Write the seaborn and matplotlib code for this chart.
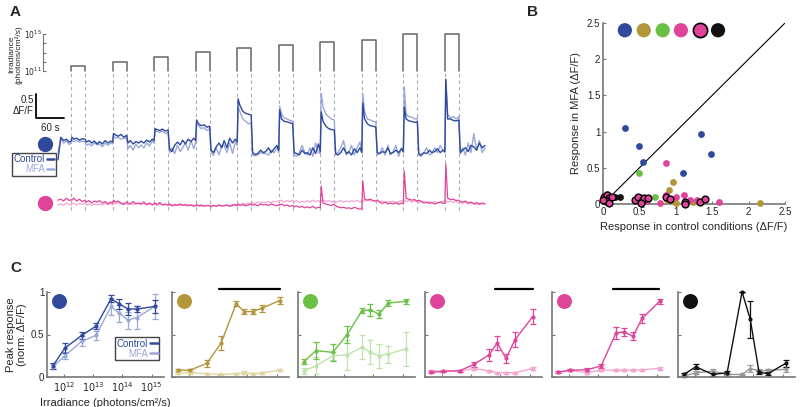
import numpy as np
import seaborn as sns
import matplotlib.pyplot as plt
from matplotlib.lines import Line2D

# ---------------- panel A: light steps + example traces ----------------
onsets = [28, 117, 206, 295, 384, 473, 562, 651, 740, 829]  # s
pulse_len = 30
pulse_log_irr = [11.55, 11.95, 12.5, 13.05, 13.5, 13.8, 14.15, 14.4, 15.0, 15.0]
rel_t = [-28, -22, -16, -10, -4, 0, 2, 6, 12, 18, 24, 30, 33, 38, 44, 50, 56]
tail_t = [891, 897, 903, 909, 915]

blue_ctrl = [
    -0.35, 0.12, 0.05, 0.08, 0.02, 0.04, 0.12, 0.08, 0.10, 0.06, 0.09, 0.08, 0.02, 0.05, 0.0, 0.04, -0.02,
    0.03, -0.02, 0.05, 0.0, 0.04, 0.02, 0.2, 0.17, 0.14, 0.18, 0.12, 0.16, 0.0, 0.05, -0.02, 0.03, 0.0,
    0.04, 0.0, 0.06, 0.02, 0.08, 0.05, 0.3, 0.28, 0.26, 0.29, 0.25, 0.27, -0.12, -0.18, -0.05, 0.02, -0.04,
    0.06, -0.02, 0.08, 0.03, 0.1, 0.05, 0.48, 0.4, 0.36, 0.38, 0.33, 0.35, -0.15, -0.2, -0.08, 0.0, -0.1,
    0.05, -0.1, 0.1, 0.0, 0.08, 0.02, 0.92, 0.78, 0.66, 0.62, 0.6, 0.58, -0.2, -0.24, -0.22, -0.15, -0.2,
    -0.18, -0.1, -0.2, -0.12, -0.05, -0.15, 0.69, 0.5, 0.45, 0.44, 0.42, 0.4, -0.2, -0.22, -0.25, -0.15, -0.22,
    -0.2, -0.25, -0.1, -0.22, -0.02, -0.18, 0.65, 0.45, 0.35, 0.3, 0.28, 0.27, -0.22, -0.25, -0.2, -0.1, -0.22,
    -0.18, -0.25, -0.12, -0.2, -0.1, -0.2, 0.83, 0.5, 0.4, 0.36, 0.35, 0.33, -0.2, -0.22, -0.18, -0.2, -0.1,
    -0.22, -0.2, -0.15, -0.2, -0.12, -0.18, 0.75, 0.5, 0.46, 0.45, 0.43, 0.44, -0.22, -0.25, -0.2, -0.22, -0.15,
    -0.2, -0.18, -0.12, -0.2, -0.15, -0.18, 1.33, 0.5, 0.5, 0.47, 0.46, 0.48, -0.2, -0.15, -0.1, -0.18, -0.05,
    -0.08, -0.15, 0.0, -0.1, -0.05]
blue_mfa = [
    -0.2, 0.08, 0.0, 0.04, -0.03, 0.0, 0.06, 0.03, 0.05, 0.02, 0.04, 0.03, -0.05, -0.02, -0.06, 0.0, -0.04,
    -0.02, -0.08, 0.0, -0.05, 0.0, -0.02, 0.15, 0.1, 0.12, 0.08, 0.1, 0.1, -0.12, -0.05, -0.15, -0.02, -0.1,
    -0.04, -0.1, 0.0, -0.06, 0.04, 0.0, 0.27, 0.24, 0.22, 0.25, 0.2, 0.22, -0.2, -0.1, -0.22, -0.05, -0.18,
    -0.1, 0.0, -0.15, 0.05, -0.12, 0.0, 0.4, 0.36, 0.3, 0.32, 0.26, 0.3, -0.2, -0.26, -0.1, -0.25, -0.05,
    -0.05, -0.2, 0.0, -0.22, 0.02, -0.05, 0.75, 0.65, 0.5, 0.45, 0.4, 0.42, -0.25, -0.27, -0.25, -0.2, -0.22,
    -0.22, -0.25, -0.15, -0.2, -0.1, -0.2, 0.77, 0.6, 0.52, 0.5, 0.47, 0.45, -0.25, -0.28, -0.2, -0.05, -0.2,
    -0.25, -0.1, -0.28, 0.0, -0.2, -0.22, 1.04, 0.75, 0.6, 0.55, 0.5, 0.48, -0.25, -0.2, -0.1, 0.05, -0.25,
    -0.2, -0.05, -0.25, -0.1, 0.02, -0.2, 1.04, 0.65, 0.5, 0.48, 0.45, 0.44, -0.25, -0.22, -0.1, -0.25, -0.05,
    -0.25, -0.18, -0.05, -0.28, -0.1, -0.2, 1.17, 0.6, 0.55, 0.54, 0.5, 0.52, -0.25, -0.28, -0.2, -0.1, -0.25,
    -0.22, -0.1, -0.2, -0.05, -0.15, -0.2, 1.31, 0.6, 0.52, 0.55, 0.5, 0.55, -0.22, -0.1, -0.25, 0.0, -0.2,
    0.2, -0.15, 0.05, -0.2, -0.1]
pink_ctrl = [
    0.06, 0.08, 0.04, 0.1, 0.05, 0.07, 0.06, 0.1, 0.04, 0.08, 0.03, 0.06, 0.02, 0.05, 0.0, 0.04, 0.02,
    0.05, 0.0, 0.03, -0.02, 0.02, 0.0, 0.06, 0.02, 0.04, 0.0, -0.03, 0.02, 0.0, -0.02, 0.03, -0.02, 0.0,
    -0.02, 0.02, -0.03, 0.0, -0.04, -0.02, 0.0, -0.03, 0.01, -0.04, -0.02, -0.05, -0.02, -0.06, -0.03, -0.05, -0.02,
    -0.05, -0.03, -0.06, -0.04, -0.07, -0.05, -0.03, -0.06, -0.04, -0.07, -0.05, -0.06, -0.08, -0.05, -0.07, -0.04, -0.06,
    -0.06, -0.04, -0.07, -0.05, -0.03, -0.06, -0.02, -0.05, -0.03, -0.06, -0.04, -0.02, -0.05, -0.03, -0.06, -0.02, -0.04,
    -0.03, -0.05, -0.02, -0.04, -0.06, -0.03, -0.05, -0.02, -0.06, -0.04, -0.07, -0.05, -0.08, -0.06, -0.09, -0.07, -0.1,
    -0.08, -0.1, -0.07, -0.11, -0.09, -0.1, 0.35, 0.0, -0.02, -0.04, -0.05, -0.03, -0.06, -0.08, -0.1, -0.09, -0.11,
    -0.1, -0.12, -0.09, -0.11, -0.13, -0.12, 0.46, 0.08, 0.06, 0.08, 0.05, 0.04, 0.06, 0.02, -0.01, 0.02, -0.02,
    0.0, -0.02, 0.01, -0.03, 0.0, -0.02, 0.67, 0.1, 0.08, 0.06, 0.07, 0.04, 0.06, 0.03, 0.0, 0.02, -0.01,
    0.01, -0.02, 0.0, 0.02, -0.01, 0.0, 0.81, 0.1, 0.07, 0.08, 0.05, 0.06, 0.03, 0.02, 0.04, 0.0, 0.02,
    -0.02, 0.01, -0.03, 0.0, -0.02]
pink_mfa = [
    -0.04, -0.02, -0.05, 0.0, -0.03, -0.05, -0.02, 0.0, -0.04, -0.01, -0.03, 0.0, -0.04, -0.02, -0.05, -0.02, -0.04,
    -0.02, -0.04, 0.0, -0.03, -0.01, -0.04, 0.0, -0.02, 0.01, -0.03, 0.0, -0.02, -0.04, -0.01, -0.03, 0.0, -0.02,
    -0.03, -0.01, -0.04, -0.02, -0.03, -0.01, -0.03, -0.05, -0.02, -0.04, -0.03, -0.05, -0.02, -0.04, -0.06, -0.03, -0.05,
    -0.04, -0.06, -0.03, -0.05, -0.04, -0.06, -0.04, -0.05, -0.07, -0.05, -0.06, -0.04, -0.06, -0.05, -0.07, -0.05, -0.06,
    -0.05, -0.04, -0.06, -0.03, -0.05, -0.04, -0.02, -0.04, -0.01, -0.03, 0.0, -0.02, 0.01, -0.01, 0.02, 0.0, 0.02,
    0.01, 0.03, 0.0, 0.04, 0.02, 0.05, 0.03, 0.06, 0.02, 0.05, 0.03, 0.06, 0.02, 0.05, 0.01, 0.04, 0.02,
    0.05, 0.02, 0.06, 0.03, 0.05, 0.02, 0.04, 0.06, 0.03, 0.05, 0.02, 0.04, 0.01, 0.03, 0.05, 0.02, 0.04,
    0.02, 0.05, 0.03, 0.06, 0.02, 0.04, 0.06, 0.03, 0.07, 0.04, 0.05, 0.03, 0.06, 0.02, 0.04, 0.01, 0.03,
    0.02, 0.04, 0.01, 0.03, 0.05, 0.02, 0.06, 0.03, 0.05, 0.02, 0.04, 0.03, 0.01, 0.04, 0.02, 0.0, 0.03,
    0.01, 0.03, 0.0, 0.02, 0.04, 0.01, 0.05, 0.02, 0.04, 0.01, 0.03, 0.0, 0.02, -0.01, 0.01, -0.02, 0.0,
    -0.01, -0.03, 0.0, -0.02, -0.01]

# ---------------- panel B: MFA vs control scatter ----------------
blue_b_x = [0.3, 0.5, 0.55, 1.1, 1.35, 1.48]
blue_b_y = [1.05, 0.8, 0.58, 0.43, 0.96, 0.69]
olive_b_x = [0.96, 0.9, 0.88, 1.0, 1.23, 2.16, 0.97]
olive_b_y = [0.31, 0.19, 0.06, 0.01, 0.03, 0.01, 0.04]
green_b_x = [0.5, 0.72]
green_b_y = [0.43, 0.09]
pink_b_x = [0.87, 0.51, 0.45, 0.78, 0.87, 1.0, 1.11, 1.2, 1.29, 1.6, 0.6, 0.06]
pink_b_y = [0.56, 0.1, 0.07, 0.02, 0.12, 0.1, 0.12, 0.06, 0.05, 0.03, 0.04, 0.14]
pinkedge_b_x = [0.02, 0.05, 0.08, 0.04, 0.08, 0.12, 0.0, 0.44, 0.48, 0.54, 0.57, 0.62,
                0.52, 0.87, 0.92, 1.13, 1.13, 1.33, 1.4]
pinkedge_b_y = [0.1, 0.13, 0.08, 0.04, 0.02, 0.1, 0.06, 0.05, 0.1, 0.04, 0.08, 0.08,
                0.01, 0.1, 0.07, 0.03, 0.0, 0.03, 0.07]
black_b_x = [0.1, 0.16, 0.23]
black_b_y = [0.08, 0.09, 0.09]

# ---------------- panel C: normalised peak response ----------------
irr_log = [11.62, 12.03, 12.61, 13.1, 13.61, 13.89, 14.19, 14.5, 15.1]
c_ctrl = [
    [0.13, 0.34, 0.49, 0.6, 0.92, 0.86, 0.8, 0.8, 0.83],
    [0.08, 0.08, 0.16, 0.4, 0.86, 0.77, 0.77, 0.81, 0.9],
    [0.18, 0.31, 0.29, 0.5, 0.78, 0.79, 0.74, 0.87, 0.89],
    [0.055, 0.066, 0.074, 0.15, 0.26, 0.4, 0.22, 0.44, 0.71],
    [0.055, 0.08, 0.085, 0.13, 0.52, 0.53, 0.48, 0.69, 0.89],
    [0.03, 0.12, 0.03, 0.05, 1.0, 0.68, 0.055, 0.04, 0.16]]
c_ctrl_err = [
    [0.03, 0.06, 0.04, 0.04, 0.04, 0.06, 0.07, 0.04, 0.08],
    [0.02, 0.02, 0.04, 0.08, 0.03, 0.03, 0.03, 0.04, 0.04],
    [0.03, 0.1, 0.1, 0.1, 0.03, 0.07, 0.05, 0.04, 0.03],
    [0.01, 0.01, 0.01, 0.03, 0.07, 0.08, 0.05, 0.09, 0.09],
    [0.01, 0.01, 0.02, 0.02, 0.07, 0.05, 0.05, 0.05, 0.03],
    [0.02, 0.03, 0.02, 0.02, 0.0, 0.22, 0.02, 0.02, 0.04]]
c_mfa = [
    [0.12, 0.25, 0.42, 0.49, 0.83, 0.75, 0.67, 0.7, 0.83],
    [0.05, 0.05, 0.04, 0.03, 0.04, 0.05, 0.04, 0.05, 0.08],
    [0.07, 0.13, 0.25, 0.26, 0.35, 0.29, 0.25, 0.27, 0.33],
    [0.07, 0.07, 0.07, 0.1, 0.07, 0.05, 0.05, 0.05, 0.1],
    [0.055, 0.08, 0.05, 0.08, 0.08, 0.08, 0.08, 0.085, 0.1],
    [0.01, 0.05, 0.07, 0.03, 0.03, 0.1, 0.07, 0.08, 0.09]]
c_mfa_err = [
    [0.03, 0.04, 0.06, 0.05, 0.1, 0.1, 0.1, 0.13, 0.15],
    [0.015, 0.015, 0.01, 0.01, 0.01, 0.015, 0.01, 0.01, 0.015],
    [0.04, 0.1, 0.05, 0.18, 0.14, 0.14, 0.14, 0.1, 0.2],
    [0.015, 0.01, 0.01, 0.015, 0.01, 0.01, 0.01, 0.01, 0.015],
    [0.01, 0.01, 0.01, 0.01, 0.01, 0.01, 0.01, 0.01, 0.015],
    [0.01, 0.02, 0.02, 0.02, 0.01, 0.04, 0.02, 0.02, 0.03]]
sig_bars = [None, (13.03, 15.12), None, (13.81, 15.11), (13.51, 15.08), None]

BLUE, LBLUE = '#30499c', '#9aa8d9'
OLIVE, LOLIVE = '#b3963a', '#e2d6a2'
GREEN, LGREEN = '#6abf45', '#bfe2ab'
PINK, LPINK = '#e0449a', '#f3a7d0'
BLACK, GREY = '#111111', '#999999'
ctrl_cols = [BLUE, OLIVE, GREEN, PINK, PINK, BLACK]
mfa_cols = [LBLUE, LOLIVE, LGREEN, LPINK, LPINK, GREY]
SPINE = '#777777'

sns.set_style('ticks')
plt.rcParams['font.family'] = ['Liberation Sans', 'DejaVu Sans']

fig = plt.figure(figsize=(8, 4.07), dpi=100)


def px_axes(x0, y0, x1, y1):
    return fig.add_axes([x0 / 800, 1 - y1 / 407, (x1 - x0) / 800, (y1 - y0) / 407])


def style_spines(ax):
    for s in ['top', 'right']:
        ax.spines[s].set_visible(False)
    for s in ['left', 'bottom']:
        ax.spines[s].set_color(SPINE)
        ax.spines[s].set_linewidth(1.2)
    ax.tick_params(direction='in', length=2.5, width=0.8, color=SPINE, labelsize=7, pad=2)


t = np.concatenate([np.add(o, rel_t) for o in onsets] + [np.array(tail_t)])
tmin, tmax = -32.1, 925.7

# irradiance protocol
ax_irr = px_axes(43, 34, 490, 71)
ax_irr.set_yscale('log')
ax_irr.set_ylim(1e11, 1e15)
ax_irr.set_xlim(tmin, tmax)
for on, lg in zip(onsets, pulse_log_irr):
    ax_irr.plot([on, on, on + pulse_len, on + pulse_len], [1e11, 10 ** lg, 10 ** lg, 1e11],
                color='#666666', lw=1.1, clip_on=False)
for s in ['top', 'right', 'bottom']:
    ax_irr.spines[s].set_visible(False)
ax_irr.spines['left'].set_color(SPINE)
ax_irr.set_xticks([])
ax_irr.set_yticks([1e11, 1e12, 1e13, 1e14, 1e15])
ax_irr.set_yticklabels(['$10^{11}$', '', '', '', '$10^{15}$'])
ax_irr.minorticks_off()
ax_irr.tick_params(axis='y', direction='in', length=2.5, color=SPINE, labelsize=5.5, pad=1)
ax_irr.set_ylabel('Irradiance\n(photons/cm²/s)', fontsize=6, linespacing=1.0)
ax_irr.yaxis.set_label_coords(-0.045, 0.45)
ax_irr.patch.set_alpha(0)

# traces
ax_tr = px_axes(43, 71, 490, 215)
ax_tr.set_xlim(tmin, tmax)
ax_tr.set_ylim(-0.25, 2.75)
ax_tr.axis('off')
ax_tr.vlines([o for o in onsets] + [o + pulse_len for o in onsets], -0.15, 2.75,
             colors='#aaaaaa', linestyles=(0, (3, 3)), lw=0.8)
blue_off = 1.25
sns.lineplot(x=t, y=np.array(blue_mfa) + blue_off, ax=ax_tr, color=LBLUE, lw=1.0, errorbar=None)
sns.lineplot(x=t, y=np.array(blue_ctrl) + blue_off, ax=ax_tr, color=BLUE, lw=1.0, errorbar=None)
sns.lineplot(x=t, y=pink_mfa, ax=ax_tr, color=LPINK, lw=0.9, errorbar=None)
sns.lineplot(x=t, y=pink_ctrl, ax=ax_tr, color=PINK, lw=0.9, errorbar=None)
# scale bar
ax_tr.plot([-47, -47, 13], [2.27, 1.77, 1.77], color='k', lw=1.3, clip_on=False)
ax_tr.text(-52, 2.03, '0.5\nΔF/F', ha='right', va='center', fontsize=7, linespacing=1.1)
ax_tr.text(-17, 1.66, '60 s', ha='center', va='top', fontsize=7)
ax_tr.plot([-28], [1.23], 'o', ms=10, color=BLUE, clip_on=False)
ax_tr.plot([-28], [0.0], 'o', ms=10, color=PINK, clip_on=False)

leg_handles = [Line2D([], [], color=BLUE, lw=1.8), Line2D([], [], color=LBLUE, lw=1.8)]
legA = fig.legend(leg_handles, ['Control', 'MFA'], loc='upper left',
                  bbox_to_anchor=(12 / 800, 1 - 153 / 407), markerfirst=False,
                  labelcolor='linecolor', fontsize=7, handlelength=0.8, handletextpad=0.2,
                  borderpad=0.15, labelspacing=0.0, fancybox=False, edgecolor='#444444',
                  framealpha=1, borderaxespad=0)
legA.get_frame().set_linewidth(1.0)

# ---------------- panel B ----------------
axB = px_axes(603, 23, 785, 204)
axB.set_xlim(0, 2.5)
axB.set_ylim(0, 2.5)
axB.plot([0, 2.5], [0, 2.5], color='k', lw=0.8)
sc_kw = dict(ax=axB, s=24, clip_on=False, zorder=3)
sns.scatterplot(x=blue_b_x, y=blue_b_y, color=BLUE, linewidth=0, **sc_kw)
sns.scatterplot(x=olive_b_x, y=olive_b_y, color=OLIVE, linewidth=0, **sc_kw)
sns.scatterplot(x=green_b_x, y=green_b_y, color=GREEN, linewidth=0, **sc_kw)
sns.scatterplot(x=pink_b_x, y=pink_b_y, color=PINK, linewidth=0, **sc_kw)
sns.scatterplot(x=black_b_x, y=black_b_y, color=BLACK, linewidth=0, **sc_kw)
sns.scatterplot(x=pinkedge_b_x, y=pinkedge_b_y, color=PINK, edgecolor='k', linewidth=1.0, **sc_kw)
key_x = [0.3, 0.56, 0.82, 1.07, 1.33, 1.58]
for kx, kc, ke in zip(key_x, [BLUE, OLIVE, GREEN, PINK, PINK, BLACK],
                      ['none', 'none', 'none', 'none', 'k', 'none']):
    axB.scatter([kx], [2.4], s=105, color=kc, edgecolors=ke, linewidths=1.2, zorder=4, clip_on=False)
style_spines(axB)
axB.set_xticks([0, 0.5, 1, 1.5, 2, 2.5])
axB.set_xticklabels(['0', '0.5', '1', '1.5', '2', '2.5'])
axB.set_yticks([0, 0.5, 1, 1.5, 2, 2.5])
axB.set_yticklabels(['0', '0.5', '1', '1.5', '2', '2.5'])
axB.set_xlabel('Response in control conditions (ΔF/F)', fontsize=8, labelpad=4)
axB.set_ylabel('Response in MFA (ΔF/F)', fontsize=8, labelpad=4)

# ---------------- panel C ----------------
lefts = [47, 172, 298, 425, 552, 678]
xs = 10 ** np.array(irr_log)
for i, l in enumerate(lefts):
    ax = px_axes(l, 292, l + 117, 377)
    ax.set_xscale('log')
    ax.set_xlim(10 ** 11.42, 10 ** 15.42)
    ax.set_ylim(0, 1)
    eb = dict(capsize=2, elinewidth=0.9, capthick=0.9, lw=1.0, marker='o', ms=2, clip_on=False)
    ax.errorbar(xs, c_mfa[i], yerr=c_mfa_err[i], color=mfa_cols[i], **eb)
    ax.errorbar(xs, c_ctrl[i], yerr=c_ctrl_err[i], color=ctrl_cols[i], **eb)
    ax.scatter([0.1], [0.9], s=95, color=ctrl_cols[i], transform=ax.transAxes, clip_on=False)
    if sig_bars[i] is not None:
        a, b = sig_bars[i]
        ax.plot([10 ** a, 10 ** b], [1.035, 1.035], color='k', lw=1.6, clip_on=False)
    style_spines(ax)
    ax.set_xticks([1e12, 1e13, 1e14, 1e15])
    ax.minorticks_off()
    ax.set_yticks([0, 0.5, 1])
    if i == 0:
        ax.set_xticklabels(['$10^{12}$', '$10^{13}$', '$10^{14}$', '$10^{15}$'])
        ax.set_yticklabels(['0', '0.5', '1'])
        ax.set_xlabel('Irradiance (photons/cm²/s)', fontsize=8, labelpad=3)
        ax.set_ylabel('Peak response\n(norm. ΔF/F)', fontsize=8, linespacing=1.1, labelpad=3)
        hC = [Line2D([], [], color=BLUE, lw=1.8), Line2D([], [], color=LBLUE, lw=1.8)]
        legC = ax.legend(hC, ['Control', 'MFA'], loc='lower right', bbox_to_anchor=(0.96, 0.2),
                         markerfirst=False, labelcolor='linecolor', fontsize=7, handlelength=0.8,
                         handletextpad=0.2, borderpad=0.15, labelspacing=0.0, fancybox=False,
                         edgecolor='#444444', framealpha=1, borderaxespad=0)
        legC.get_frame().set_linewidth(1.0)
    else:
        ax.set_xticklabels([])
        ax.set_yticklabels([])

fig.text(10 / 800, 1 - 12 / 407, 'A', fontsize=11, fontweight='bold', va='center')
fig.text(527 / 800, 1 - 12 / 407, 'B', fontsize=11, fontweight='bold', va='center')
fig.text(10 / 800, 1 - 268 / 407, 'C', fontsize=11, fontweight='bold', va='center')

fig.savefig('out.png', dpi=100)
